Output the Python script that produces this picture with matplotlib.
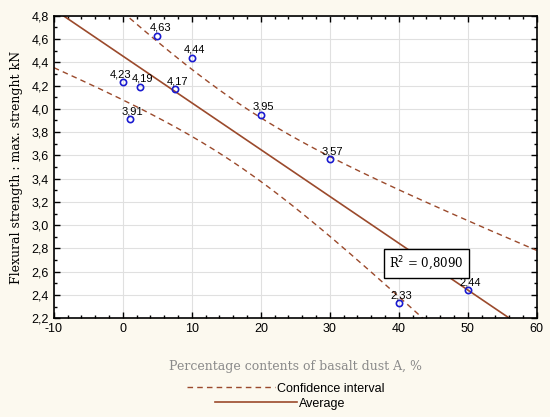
import numpy as np
import matplotlib
matplotlib.use("Agg")
import matplotlib.pyplot as plt
from matplotlib.lines import Line2D
from matplotlib.ticker import MultipleLocator, FuncFormatter

plt.rcParams["axes.unicode_minus"] = False

# basalt dust content (%) and measured max. flexural strength (kN)
dust = [0, 1, 2.5, 5, 7.5, 10, 20, 30, 40, 50]
strength = [4.23, 3.91, 4.19, 4.63, 4.17, 4.44, 3.95, 3.57, 2.33, 2.44]
point_labels = ["4,23", "3,91", "4,19", "4,63", "4,17", "4,44", "3,95", "3,57", "2,33", "2,44"]
r2_text = "0,8090"

x = np.array(dust)
y = np.array(strength)

# linear fit and 95% confidence band of the mean
slope, icept = np.polyfit(x, y, 1)
n = len(x)
resid = y - (slope * x + icept)
s = np.sqrt(np.sum(resid ** 2) / (n - 2))
sxx = np.sum((x - x.mean()) ** 2)
t95 = 2.306  # t(0.975, df=8)

xs = np.linspace(-10, 60, 200)
fit = slope * xs + icept
band = t95 * s * np.sqrt(1 / n + (xs - x.mean()) ** 2 / sxx)

brown = "#9b4a2c"
cream = "#fcf9ef"

fig = plt.figure(figsize=(5.5, 4.17), dpi=100, facecolor=cream)
ax = fig.add_axes([0.098, 0.237, 0.878, 0.725])
ax.set_facecolor("white")

ax.plot(xs, fit, color=brown, lw=1.2)
ax.plot(xs, fit - band, color=brown, lw=1.0, ls=(0, (4, 3)))
ax.plot(xs, fit + band, color=brown, lw=1.0, ls=(0, (4, 3)))
ax.plot(x, y, "o", mfc="none", mec="#1a1ad0", mew=1.2, ms=4.5)

for i, (xi, yi, lab) in enumerate(zip(dust, strength, point_labels)):
    dx = -2 if i == 0 else 2
    ax.annotate(lab, (xi, yi), xytext=(dx, 2), textcoords="offset points",
                ha="center", va="bottom", fontsize=8, family="Liberation Sans")

ax.text(44, 2.67, "R$^2$ = " + r2_text, family="DejaVu Serif",
        fontsize=8.5, ha="center", va="center",
        bbox=dict(boxstyle="square,pad=0.45", fc="white", ec="black", lw=1))

ax.set_xlim(-10, 60)
ax.set_ylim(2.2, 4.8)
ax.xaxis.set_major_locator(MultipleLocator(10))
ax.xaxis.set_minor_locator(MultipleLocator(2))
ax.yaxis.set_major_locator(MultipleLocator(0.2))
ax.yaxis.set_minor_locator(MultipleLocator(0.1))
ax.yaxis.set_major_formatter(FuncFormatter(lambda v, p: f"{v:.1f}".replace(".", ",")))
ax.tick_params(which="both", direction="in", top=True, right=True, width=1)
ax.tick_params(which="major", length=4, labelsize=9)
ax.tick_params(which="minor", length=2)
for lab in ax.get_xticklabels() + ax.get_yticklabels():
    lab.set_family("Liberation Sans")
ax.grid(True, which="major", color="#e0e0e0", lw=0.8)
ax.set_axisbelow(True)
for sp in ax.spines.values():
    sp.set_linewidth(1.2)

ax.set_xlabel("Percentage contents of basalt dust A, %", family="DejaVu Serif",
              color="#8a8a8a", fontsize=9, labelpad=18)
ax.set_ylabel("Flexural strength : max. strenght kN", family="DejaVu Serif",
              fontsize=9, labelpad=6)

h1 = [Line2D([], [], color=brown, lw=1.0, ls=(0, (4, 3)))]
h2 = [Line2D([], [], color=brown, lw=1.2)]
fig.legend(h1, ["Confidence interval"], loc="center", bbox_to_anchor=(0.52, 0.068),
           frameon=False, handlelength=7, handletextpad=0.2,
           prop={"family": "Liberation Sans", "size": 9})
fig.legend(h2, ["Average"], loc="center", bbox_to_anchor=(0.51, 0.032),
           frameon=False, handlelength=6.5, handletextpad=0.2,
           prop={"family": "Liberation Sans", "size": 9})

fig.savefig("out.png", dpi=100, facecolor=cream)
